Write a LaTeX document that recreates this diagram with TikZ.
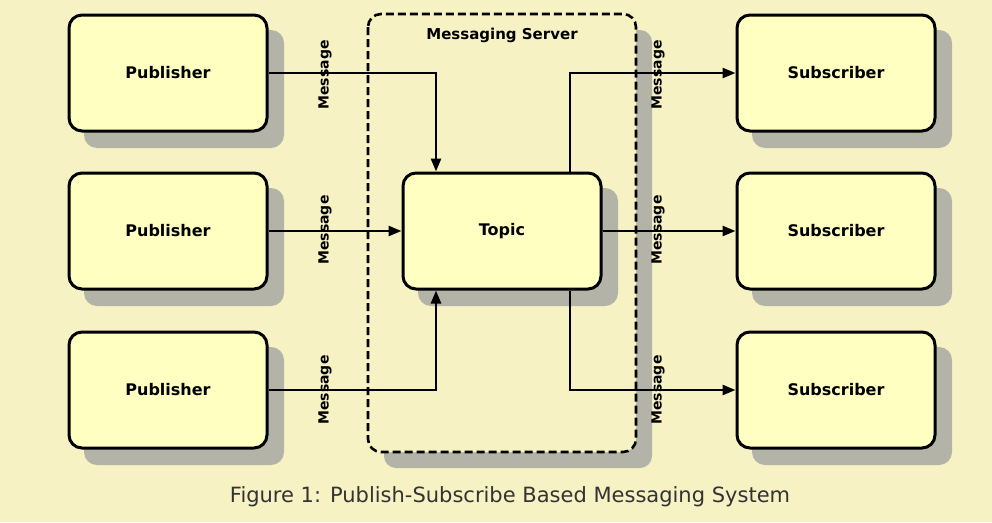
\documentclass[tikz,border=0pt]{standalone}
\usepackage{fontspec}
\setmainfont{DejaVu Sans}
\usetikzlibrary{arrows.meta}
\definecolor{bg}{HTML}{F6F2C4}
\definecolor{boxfill}{HTML}{FFFFC2}
\definecolor{shad}{HTML}{B4B3A8}
\tikzset{
  x=1pt,y=-1pt,
  box/.style={draw=black,line width=3pt,fill=boxfill,rounded corners=13pt,minimum width=198pt,minimum height=116pt,font=\bfseries\fontsize{16}{18}\selectfont},
  shadowbox/.style={fill=shad,rounded corners=13pt,minimum width=200pt,minimum height=118pt},
  conn/.style={line width=2.6pt,-{Triangle[length=13pt,width=10pt]}},
  msg/.style={rotate=90,font=\bfseries\fontsize{14}{16}\selectfont}
}
\begin{document}
\begin{tikzpicture}
\fill[bg] (0,0) rectangle (992,522);
\useasboundingbox (0,0) rectangle (992,522);
% shadows
\foreach \x/\y in {184/89,184/247,184/406,852/89,852/247,852/406}
  \node[shadowbox] at (\x,\y) {};
\fill[shad,rounded corners=12pt] (384,30) rectangle (652,468);
\draw[line width=2.6pt,dash pattern=on 8pt off 4pt,rounded corners=13pt,fill=bg] (368,14) rectangle (636,452);
\node[font=\bfseries\fontsize{15}{17}\selectfont] (srv) at (502,35) {Messaging Server};
\node[box] (p1) at (168,73) {Publisher};
\node[box] (p2) at (168,231) {Publisher};
\node[box] (p3) at (168,390) {Publisher};
\node[box] (s1) at (836,73) {Subscriber};
\node[box] (s2) at (836,231) {Subscriber};
\node[box] (s3) at (836,390) {Subscriber};
\node[shadowbox] at (518,247) {};
\node[box] (t) at (502,231) {Topic};
\draw[conn] (p1.east) -| ([xshift=-66pt]t.north);
\draw[conn] (p2.east) -- (t.west);
\draw[conn] (p3.east) -| ([xshift=-66pt]t.south);
\draw[conn] ([xshift=68pt]t.north) |- (s1.west);
\draw[conn] (t.east) -- (s2.west);
\draw[conn] ([xshift=68pt]t.south) |- (s3.west);
\foreach \y/\n in {75/a,230/b,390/c}{
  \node[msg] (ml\n) at (325,\y) {Message};
  \node[msg] (mr\n) at (658,\y) {Message};
}
\node[font=\fontsize{21}{24}\selectfont,text=black!80] (cap) at (510,497) {Figure 1: Publish-Subscribe Based Messaging System};
\end{tikzpicture}
\end{document}
